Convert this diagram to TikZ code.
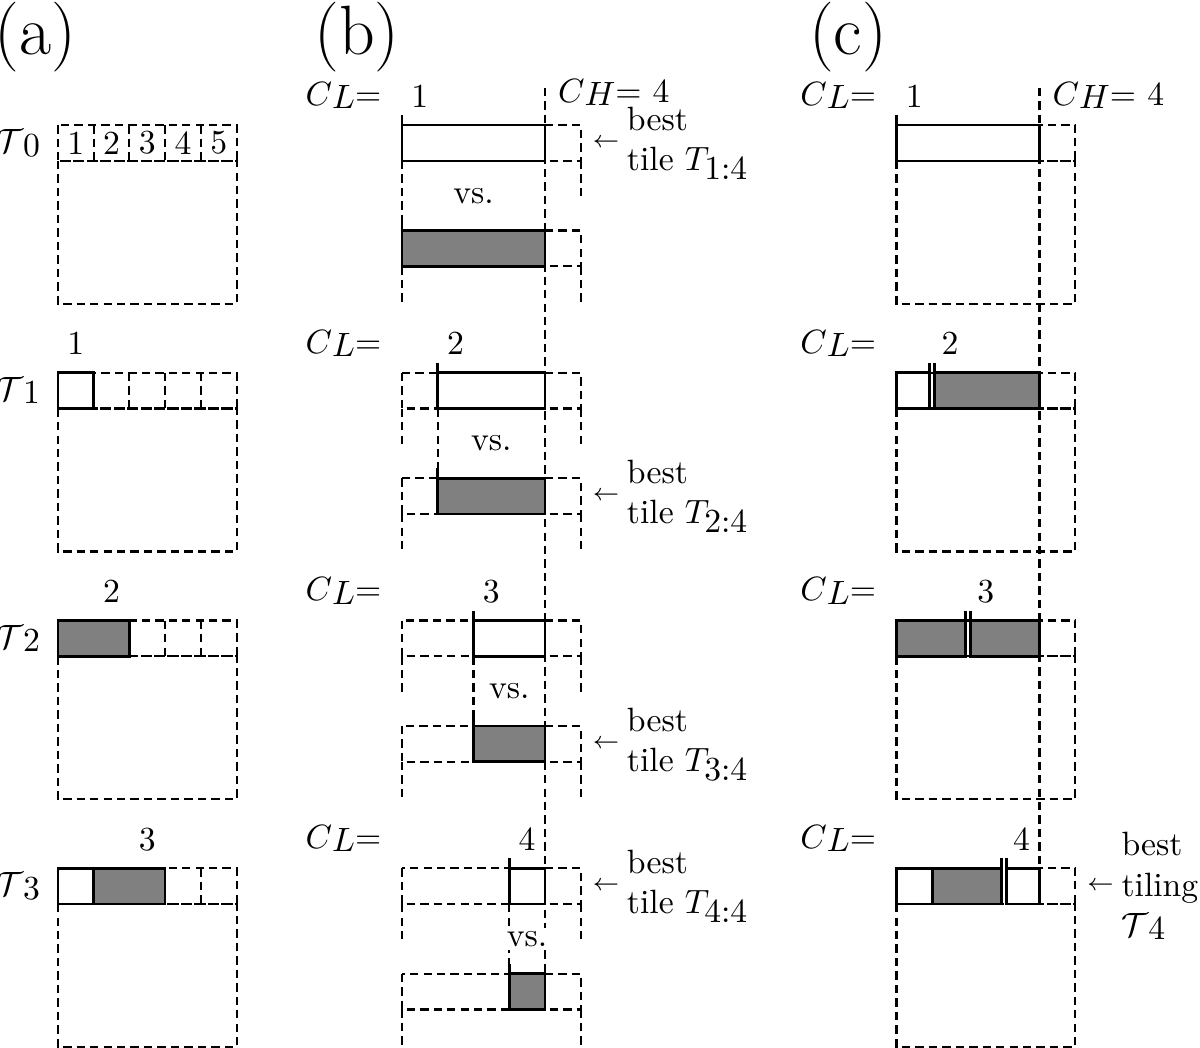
\documentclass[tikz,border=0pt]{standalone}
\usepackage{tikz}
\tikzset{
  freecell/.style={line width=0.65pt, dash pattern=on 2.5pt off 1.5pt},
  tilecell/.style={line width=0.8pt, fill=white},
  besttile/.style={line width=0.8pt, fill=black!50},
  tickline/.style={line width=0.8pt},
  vslabel/.style={fill=white, inner sep=1pt},
  arrowlabel/.style={anchor=west, font=\scriptsize},
  bestlabel/.style={anchor=west, align=left, inner xsep=0pt, inner ysep=0pt, xshift=-1.5pt},
  chlabel/.style={anchor=base west, inner ysep=0pt},
}
% full-size index, set a little low
\newcommand\lowsub[2][1pt]{\raisebox{-#1}{$#2$}}
% candidate strip of panel (b): (CL edge, top)[tile style]
\def\bstrip(#1,#2)[#3]{%
  \draw[freecell] (11.245,#2) rectangle (#1,#2+1);
  \draw[freecell] (15.245,#2) rectangle (16.245,#2+1);
  \draw[freecell] (11.245,#2+1) -- ++(0,1);
  \draw[freecell] (16.245,#2+1) -- ++(0,1);
  \draw[#3] (#1,#2) rectangle (15.245,#2+1);
  \draw[tickline] (#1,#2) -- ++(0,-0.28);
}
\begin{document}
\begin{tikzpicture}[x=0.373cm, y=-0.373cm]
		\useasboundingbox (0,0) rectangle (33.57,29.31);
		
		%%%%% PANEL LABELS %%%%%
		\node[font=\huge] (pa) at (1.0,1.03) {(a)};
		\node[font=\huge] (pb) at (9.99,1.03) {(b)};
		\node[font=\huge] (pc) at (23.72,1.03) {(c)};
		
		%%%%% (a) %%%%%
		\draw[freecell] (1.62,3.5) rectangle (6.62,4.5);
		\draw[freecell] (1.62,4.5) rectangle (6.62,8.5);
		\draw[freecell] (2.62,3.5) -- ++(0,1);
		\draw[freecell] (3.62,3.5) -- ++(0,1);
		\draw[freecell] (4.62,3.5) -- ++(0,1);
		\draw[freecell] (5.62,3.5) -- ++(0,1);
		\foreach \k in {1,...,5}
			\node (na\k) at (1.12+\k,4.0) {\k};
		\node[anchor=east] (ta0) at (1.45,4.0) {$\mathcal{T}\lowsub{0}$};
		
		\draw[freecell] (1.62,10.43) rectangle (6.62,11.43);
		\draw[freecell] (1.62,11.43) rectangle (6.62,15.43);
		\draw[freecell] (3.62,10.43) -- ++(0,1);
		\draw[freecell] (4.62,10.43) -- ++(0,1);
		\draw[freecell] (5.62,10.43) -- ++(0,1);
		\draw[tilecell] (1.62,10.43) rectangle (2.62,11.43);
		\node[anchor=base] (la1) at (2.12,9.93) {1};
		\node[anchor=east] (ta1) at (1.45,10.93) {$\mathcal{T}\lowsub{1}$};
		
		\draw[freecell] (1.62,17.36) rectangle (6.62,18.36);
		\draw[freecell] (1.62,18.36) rectangle (6.62,22.36);
		\draw[freecell] (4.62,17.36) -- ++(0,1);
		\draw[freecell] (5.62,17.36) -- ++(0,1);
		\draw[besttile] (1.62,17.36) rectangle (3.62,18.36);
		\node[anchor=base] (la2) at (3.12,16.86) {2};
		\node[anchor=east] (ta2) at (1.45,17.86) {$\mathcal{T}\lowsub{2}$};
		
		\draw[freecell] (1.62,24.29) rectangle (6.62,25.29);
		\draw[freecell] (1.62,25.29) rectangle (6.62,29.29);
		\draw[freecell] (5.62,24.29) -- ++(0,1);
		\draw[tilecell] (1.62,24.29) rectangle (2.62,25.29);
		\draw[besttile] (2.62,24.29) rectangle (4.62,25.29);
		\node[anchor=base] (la3) at (4.12,23.79) {3};
		\node[anchor=east] (ta3) at (1.45,24.79) {$\mathcal{T}\lowsub{3}$};
		
		%%%%% (b) %%%%%
		\draw[freecell] (15.245,2.46) -- (15.245,27.24);
		\node[chlabel] (chb) at (15.28,2.86) {$C\lowsub{H}{=}$ 4};
		
		% CL = 1
		\node[anchor=base east] (clb1) at (11.0,2.95) {$C\lowsub{L}{=}$};
		\node[anchor=base] (nb1) at (11.745,3.0) {1};
		\bstrip(11.245,3.5)[tilecell]
		\bstrip(11.245,6.45)[besttile]
		\draw[freecell] (11.245,4.5) -- (11.245,6.45);
		\node[vslabel] (vs1) at (13.245,5.475) {vs.};
		\node[arrowlabel] (arb1) at (16.245,4.0) {$\leftarrow$};
		\node[bestlabel] (bb1) at (arb1.east) {best\\tile $T$\kern-1.5pt\lowsub[2.5pt]{1{:}4}};
		
		% CL = 2
		\node[anchor=base east] (clb2) at (11.0,9.88) {$C\lowsub{L}{=}$};
		\node[anchor=base] (nb2) at (12.745,9.93) {2};
		\bstrip(12.245,10.43)[tilecell]
		\bstrip(12.245,13.38)[besttile]
		\draw[freecell] (12.245,11.43) -- (12.245,13.38);
		\node[vslabel] (vs2) at (13.745,12.405) {vs.};
		\node[arrowlabel] (arb2) at (16.245,13.88) {$\leftarrow$};
		\node[bestlabel] (bb2) at (arb2.east) {best\\tile $T$\kern-1.5pt\lowsub[2.5pt]{2{:}4}};
		
		% CL = 3
		\node[anchor=base east] (clb3) at (11.0,16.81) {$C\lowsub{L}{=}$};
		\node[anchor=base] (nb3) at (13.745,16.86) {3};
		\bstrip(13.245,17.36)[tilecell]
		\bstrip(13.245,20.31)[besttile]
		\draw[freecell] (13.245,18.36) -- (13.245,20.31);
		\node[vslabel] (vs3) at (14.245,19.335) {vs.};
		\node[arrowlabel] (arb3) at (16.245,20.81) {$\leftarrow$};
		\node[bestlabel] (bb3) at (arb3.east) {best\\tile $T$\kern-1.5pt\lowsub[2.5pt]{3{:}4}};
		
		% CL = 4
		\node[anchor=base east] (clb4) at (11.0,23.74) {$C\lowsub{L}{=}$};
		\node[anchor=base] (nb4) at (14.745,23.79) {4};
		\bstrip(14.245,24.29)[tilecell]
		\bstrip(14.245,27.24)[besttile]
		\draw[freecell] (14.245,25.29) -- (14.245,27.24);
		\node[vslabel] (vs4) at (14.745,26.265) {vs.};
		\node[arrowlabel] (arb4) at (16.245,24.79) {$\leftarrow$};
		\node[bestlabel] (bb4) at (arb4.east) {best\\tile $T$\kern-1.5pt\lowsub[2.5pt]{4{:}4}};
		
		%%%%% (c) %%%%%
		\draw[freecell] (25.08,3.5) rectangle (30.08,4.5);
		\draw[freecell] (25.08,4.5) rectangle (30.08,8.5);
		\draw[freecell] (25.08,10.43) rectangle (30.08,11.43);
		\draw[freecell] (25.08,11.43) rectangle (30.08,15.43);
		\draw[freecell] (25.08,17.36) rectangle (30.08,18.36);
		\draw[freecell] (25.08,18.36) rectangle (30.08,22.36);
		\draw[freecell] (25.08,24.29) rectangle (30.08,25.29);
		\draw[freecell] (25.08,25.29) rectangle (30.08,29.29);
		\draw[freecell] (29.08,2.46) -- (29.08,24.29);
		\node[chlabel] (chc) at (29.115,2.95) {$C\lowsub{H}{=}$ 4};
		
		% CL = 1
		\node[anchor=base east] (clc1) at (24.84,2.95) {$C\lowsub{L}{=}$};
		\node[anchor=base] (nc1) at (25.58,3.0) {1};
		\draw[tilecell] (25.08,3.5) rectangle (29.08,4.5);
		\draw[tickline] (25.08,3.5) -- ++(0,-0.28);
		
		% CL = 2
		\node[anchor=base east] (clc2) at (24.84,9.88) {$C\lowsub{L}{=}$};
		\node[anchor=base] (nc2) at (26.58,9.93) {2};
		\draw[tilecell] (25.08,10.43) rectangle (26.01,11.43);
		\draw[besttile] (26.15,10.43) rectangle (29.08,11.43);
		\draw[tickline] (26.01,10.43) -- ++(0,-0.28);
		\draw[tickline] (26.15,10.43) -- ++(0,-0.28);
		
		% CL = 3
		\node[anchor=base east] (clc3) at (24.84,16.81) {$C\lowsub{L}{=}$};
		\node[anchor=base] (nc3) at (27.58,16.86) {3};
		\draw[besttile] (25.08,17.36) rectangle (27.01,18.36);
		\draw[besttile] (27.15,17.36) rectangle (29.08,18.36);
		\draw[tickline] (27.01,17.36) -- ++(0,-0.28);
		\draw[tickline] (27.15,17.36) -- ++(0,-0.28);
		
		% CL = 4
		\node[anchor=base east] (clc4) at (24.84,23.74) {$C\lowsub{L}{=}$};
		\node[anchor=base] (nc4) at (28.58,23.79) {4};
		\draw[tilecell] (25.08,24.29) rectangle (26.08,25.29);
		\draw[besttile] (26.08,24.29) rectangle (28.01,25.29);
		\draw[tilecell] (28.15,24.29) rectangle (29.08,25.29);
		\draw[tickline] (28.01,24.29) -- ++(0,-0.28);
		\draw[tickline] (28.15,24.29) -- ++(0,-0.28);
		\node[arrowlabel] (arc4) at (30.08,24.79) {$\leftarrow$};
		\node[bestlabel] (bc4) at (arc4.east) {best\\tiling\\$\mathcal{T}\lowsub{4}$};
		
		%%%%% END %%%%%
	\end{tikzpicture}
\end{document}
